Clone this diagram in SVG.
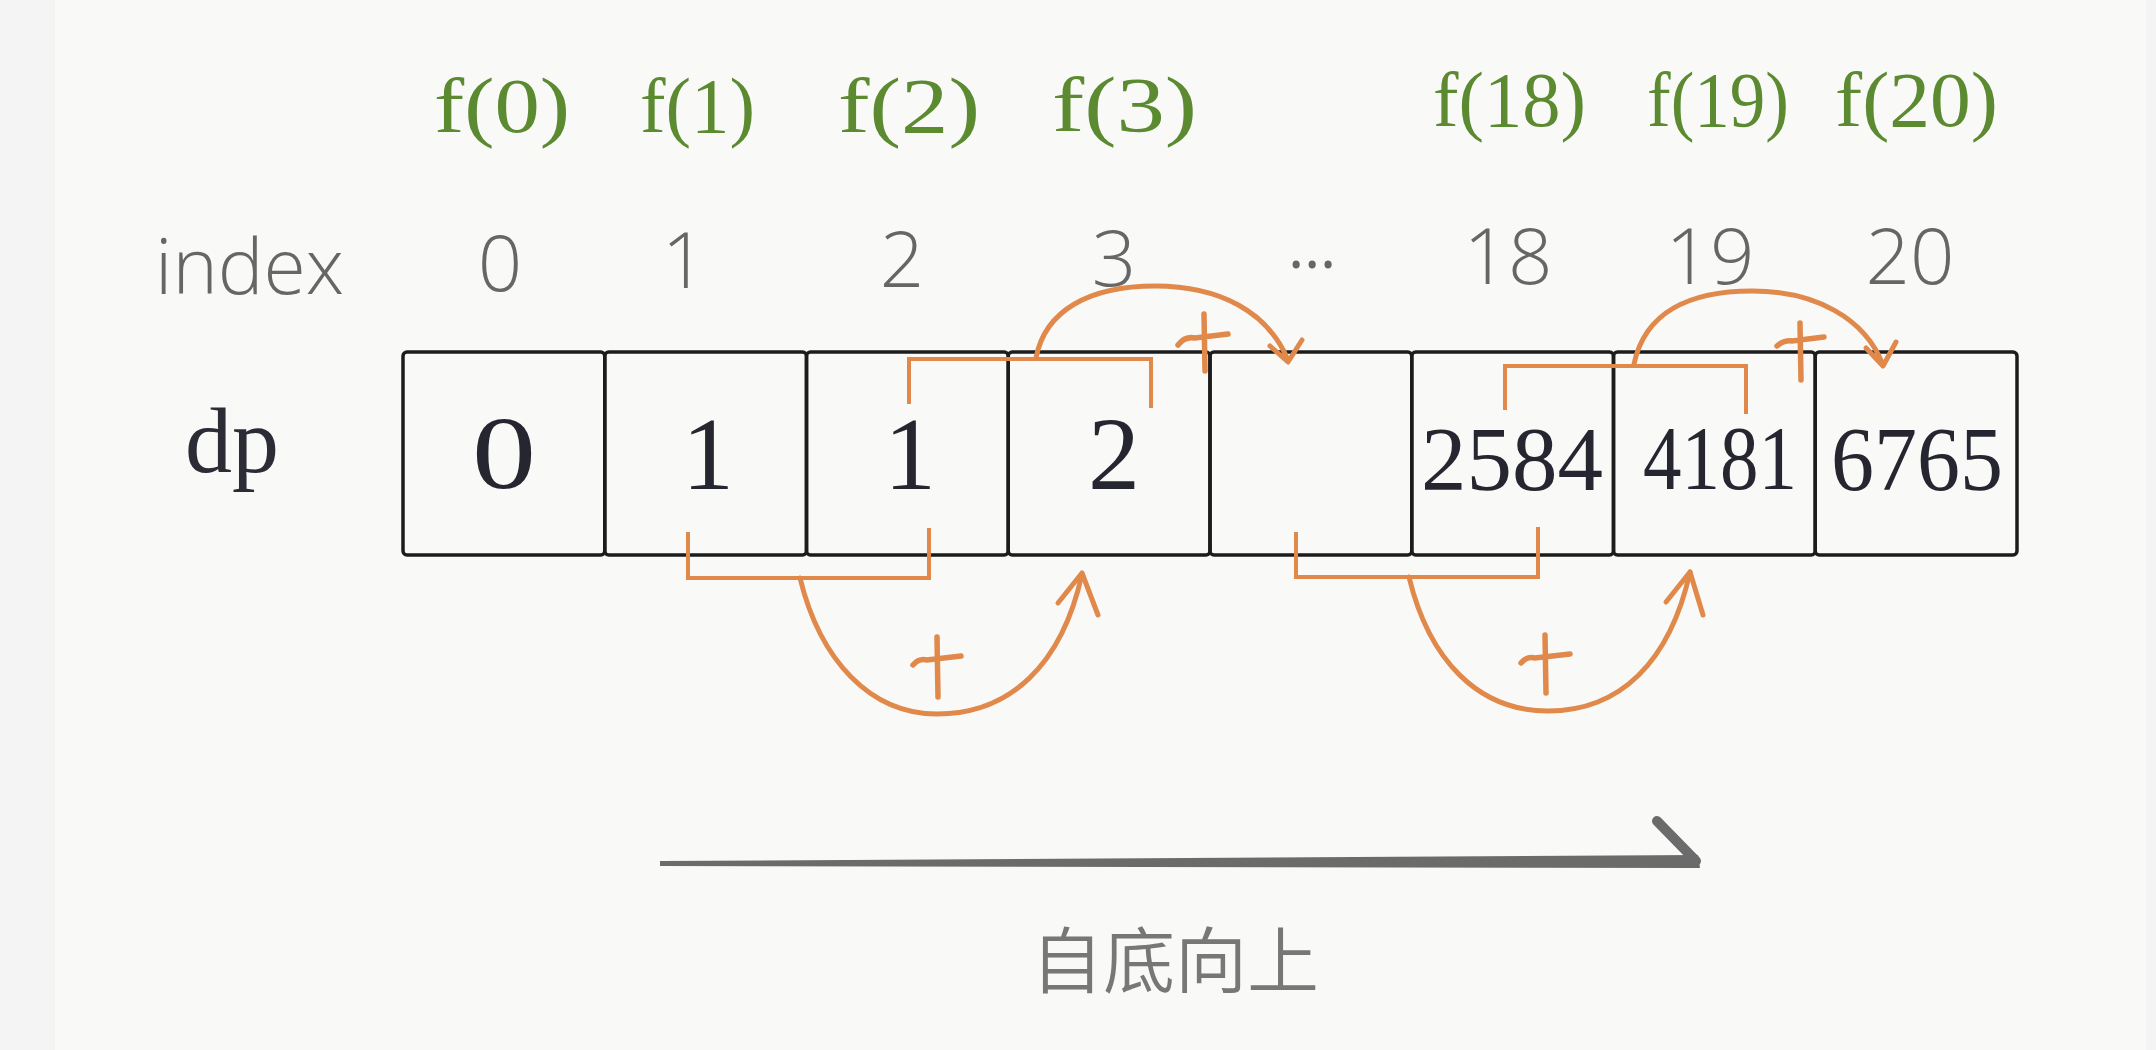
<svg xmlns="http://www.w3.org/2000/svg" width="2156" height="1050" viewBox="0 0 2156 1050">
<style>
.f{font-family:"Liberation Serif","Times New Roman",serif;font-size:78px;fill:#5b8a30;}
.idx{font-family:"Open Sans","Liberation Sans",Arial,sans-serif;font-weight:300;font-size:78px;fill:#666666;text-anchor:middle;}
.val{font-family:"Liberation Serif","Times New Roman",serif;font-size:104px;fill:#262630;text-anchor:middle;}
.val4{font-family:"Liberation Serif","Times New Roman",serif;font-size:90px;fill:#262630;text-anchor:middle;}
.cell{fill:none;stroke:#1c1c1c;stroke-width:3.5;}
.br{fill:none;stroke:#e0894b;stroke-width:4;stroke-linejoin:miter;}
.arc{fill:none;stroke:#e0894b;stroke-width:5;stroke-linecap:round;stroke-linejoin:round;}
.plus{fill:none;stroke:#e0894b;stroke-width:5.5;stroke-linecap:round;}
</style>
<rect x="0" y="0" width="2156" height="1050" fill="#f9f9f8"/>
<rect x="0" y="0" width="55" height="1050" fill="#f4f4f4"/>
<rect x="2146" y="0" width="10" height="1050" fill="#f4f4f4"/>

<g id="f-labels">
<text class="f" x="434" y="132" textLength="136" lengthAdjust="spacingAndGlyphs">f(0)</text>
<text class="f" x="640" y="132" textLength="115" lengthAdjust="spacingAndGlyphs">f(1)</text>
<text class="f" x="838" y="132" textLength="142" lengthAdjust="spacingAndGlyphs">f(2)</text>
<text class="f" x="1052" y="131" textLength="145" lengthAdjust="spacingAndGlyphs">f(3)</text>
<text class="f" x="1433" y="126" textLength="153" lengthAdjust="spacingAndGlyphs">f(18)</text>
<text class="f" x="1647" y="126" textLength="142" lengthAdjust="spacingAndGlyphs">f(19)</text>
<text class="f" x="1835" y="126" textLength="163" lengthAdjust="spacingAndGlyphs">f(20)</text>
</g>

<g id="index-row">
<text class="idx" x="155" y="294" style="text-anchor:start" textLength="189" lengthAdjust="spacingAndGlyphs">index</text>
<text class="idx" x="500" y="291">0</text>
<text class="idx" x="684" y="288">1</text>
<text class="idx" x="902" y="287">2</text>
<text class="idx" x="1114" y="286">3</text>
<text class="idx" x="1312" y="268" style="font-size:62px;font-weight:400">…</text>
<text class="idx" x="1508" y="284">18</text>
<text class="idx" x="1710" y="284">19</text>
<text class="idx" x="1910" y="284">20</text>
</g>

<g id="dp-label">
<text x="185" y="472" style="font-family:'Liberation Serif','Times New Roman',serif;font-size:94px;fill:#2c2c36">dp</text>
</g>

<g id="cell-0"><rect class="cell" x="403" y="352" width="201.75" height="203" rx="4"/><text class="val" x="504" y="488" textLength="64" lengthAdjust="spacingAndGlyphs">0</text></g>
<g id="cell-1"><rect class="cell" x="604.75" y="352" width="201.75" height="203" rx="4"/><text class="val" x="708" y="489">1</text></g>
<g id="cell-2"><rect class="cell" x="806.5" y="352" width="201.75" height="203" rx="4"/><text class="val" x="910" y="489">1</text></g>
<g id="cell-3"><rect class="cell" x="1008.25" y="352" width="201.75" height="203" rx="4"/><text class="val" x="1114" y="489">2</text></g>
<g id="cell-4"><rect class="cell" x="1210" y="352" width="201.75" height="203" rx="4"/></g>
<g id="cell-18"><rect class="cell" x="1411.75" y="352" width="201.75" height="203" rx="4"/><text class="val4" x="1512" y="490" textLength="182" lengthAdjust="spacingAndGlyphs">2584</text></g>
<g id="cell-19"><rect class="cell" x="1613.5" y="352" width="201.75" height="203" rx="4"/><text class="val4" x="1720" y="489" textLength="154" lengthAdjust="spacingAndGlyphs">4181</text></g>
<g id="cell-20"><rect class="cell" x="1815.25" y="352" width="201.75" height="203" rx="4"/><text class="val4" x="1917" y="490" textLength="172" lengthAdjust="spacingAndGlyphs">6765</text></g>

<g id="connectors">
<path class="br" d="M909,404 V359 H1151 V408"/>
<path class="arc" d="M1036,358 C1045,310 1090,286 1155,286 C1220,286 1268,312 1288,360"/>
<path class="arc" d="M1270,346 L1288,362 L1302,340"/>
<path class="plus" d="M1204,314 L1205,371 M1178,345 Q1185,336 1195,338 L1228,334"/>

<path class="br" d="M1505,410 V366 H1746 V414"/>
<path class="arc" d="M1634,364 C1645,312 1690,291 1752,291 C1815,291 1865,318 1883,365"/>
<path class="arc" d="M1866,348 L1883,366 L1896,342"/>
<path class="plus" d="M1800,323 L1801,380 M1777,346 Q1784,340 1792,341 L1824,337"/>

<path class="br" d="M688,532 V578 H929 V528"/>
<path class="arc" d="M800,578 C820,660 870,714 937,714 C1010,714 1062,665 1082,574"/>
<path class="arc" d="M1058,603 L1082,573 L1098,615"/>
<path class="plus" d="M937,637 L938,697 M913,665 Q919,658 927,660 L961,656"/>

<path class="br" d="M1296,532 V577 H1538 V527"/>
<path class="arc" d="M1409,577 C1429,660 1478,711 1548,711 C1620,711 1670,662 1690,572"/>
<path class="arc" d="M1666,602 L1690,572 L1703,615"/>
<path class="plus" d="M1545,635 L1546,693 M1521,663 Q1527,656 1535,658 L1570,654"/>

<path d="M660,861 L1698,855 L1700,868 L660,866 Z" fill="#6b6b6b"/>
<path d="M1657,821 L1696,861" fill="none" stroke="#6b6b6b" stroke-width="10" stroke-linecap="round"/>
</g>

<g id="caption">
<text x="1175" y="987" text-anchor="middle" style="font-family:'Noto Sans CJK SC','Noto Sans CJK JP',sans-serif;font-size:72px;font-weight:350;fill:#777777">自底向上</text>
</g>
</svg>
